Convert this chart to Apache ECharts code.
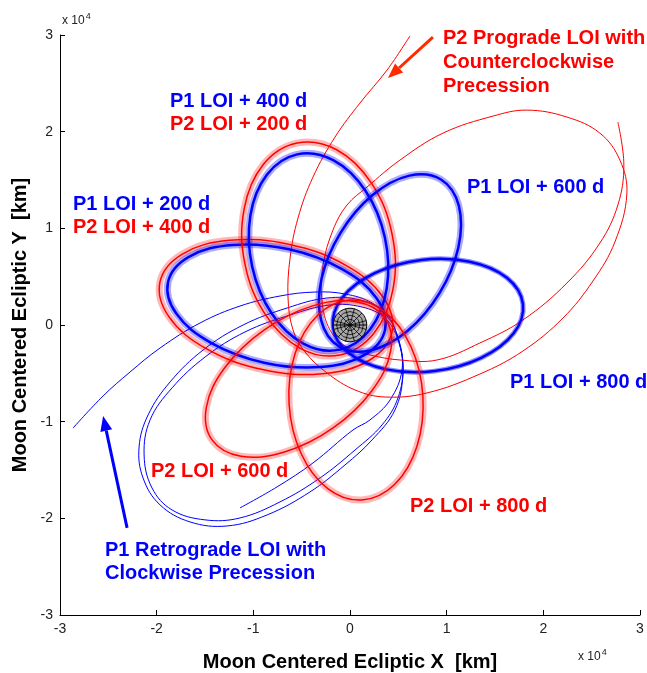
<!DOCTYPE html>
<html><head><meta charset="utf-8">
<script src="https://cdn.jsdelivr.net/npm/echarts@6/dist/echarts.min.js"></script>
<style>html,body{margin:0;padding:0;background:#fff}#c{width:647px;height:673px}</style>
</head><body><div id="c"></div>
<script>
// axis ticks (units of 10^4 km)
const xTicks = [-3, -2, -1, 0, 1, 2, 3];
const yTicks = [-3, -2, -1, 0, 1, 2, 3];

// Moon
const moonCenter = [0, 0];
const moonRadius = 0.1737;

// P1 (blue) lunar orbits, points read around each loop (10^4 km)
const p1Loi200 = [[-1.882,0.445],[-1.667,0.705],[-1.210,0.828],[-0.631,0.783],[-0.087,0.580],[0.277,0.275],[0.362,-0.052],[0.147,-0.312],[-0.310,-0.435],[-0.889,-0.390],[-1.433,-0.187],[-1.797,0.118]];
const p1Loi400 = [[-0.547,1.765],[-0.174,1.705],[0.158,1.391],[0.361,0.906],[0.380,0.380],[0.209,-0.044],[-0.104,-0.255],[-0.478,-0.195],[-0.810,0.119],[-1.012,0.604],[-1.031,1.130],[-0.860,1.554]];
const p1Loi600 = [[0.941,1.505],[1.126,1.233],[1.121,0.802],[0.926,0.329],[0.594,-0.062],[0.212,-0.263],[-0.114,-0.222],[-0.299,0.050],[-0.294,0.480],[-0.098,0.953],[0.234,1.344],[0.615,1.545]];
const p1Loi800 = [[1.789,0.217],[1.693,-0.086],[1.358,-0.340],[0.876,-0.477],[0.375,-0.459],[-0.009,-0.293],[-0.176,-0.021],[-0.080,0.282],[0.255,0.536],[0.737,0.673],[1.238,0.655],[1.623,0.489]];
// P1 retrograde arrival and first revolutions
const p1Retro = [[-2.864,-1.065],[-2.554,-0.734],[-2.275,-0.486],[-1.965,-0.238],[-1.551,0.021],[-1.138,0.196],[-0.724,0.300],[-0.362,0.341],[-0.052,0.321],[0.228,0.228],[0.414,0.052],[0.517,-0.207],[0.548,-0.517],[0.465,-0.879],[0.228,-1.189],[-0.052,-1.448],[-0.414,-1.727],[-0.858,-1.965],[-1.272,-2.079],[-1.655,-2.037],[-1.965,-1.861],[-2.141,-1.582],[-2.182,-1.262],[-2.089,-0.931],[-1.861,-0.589],[-1.520,-0.259],[-1.106,0.0],[-0.651,0.176],[-0.238,0.279],[0.103,0.259],[0.362,0.134],[0.486,-0.103],[0.548,-0.414],[0.496,-0.755],[0.331,-1.034],[0.052,-1.293],[-0.310,-1.582],[-0.724,-1.830],[-1.138,-1.996],[-1.499,-2.016],[-1.841,-1.913],[-2.048,-1.686],[-2.130,-1.344],[-2.068,-0.982],[-1.841,-0.651],[-1.499,-0.331],[-1.086,-0.072],[-0.620,0.103],[-0.207,0.207],[0.124,0.186],[0.362,0.072],[0.496,-0.155],[0.538,-0.465],[0.414,-0.776],[0.207,-0.982],[0.031,-1.086],[-0.383,-1.427],[-0.755,-1.675],[-1.138,-1.892]];

// P2 (red) lunar orbits
const p2Loi200 = [[-0.548,1.882],[-0.138,1.813],[0.222,1.467],[0.435,0.940],[0.445,0.371],[0.247,-0.086],[-0.103,-0.310],[-0.514,-0.241],[-0.873,0.104],[-1.087,0.632],[-1.095,1.201],[-0.899,1.658]];
const p2Loi400 = [[-1.966,0.445],[-1.734,0.734],[-1.245,0.876],[-0.626,0.833],[-0.043,0.617],[0.344,0.285],[0.435,-0.072],[0.205,-0.362],[-0.285,-0.504],[-0.905,-0.461],[-1.487,-0.245],[-1.874,0.087]];
const p2Loi600 = [[-1.427,-1.189],[-1.128,-1.358],[-0.670,-1.312],[-0.175,-1.065],[0.225,-0.682],[0.421,-0.266],[0.362,0.072],[0.063,0.241],[-0.395,0.195],[-0.890,-0.052],[-1.290,-0.435],[-1.486,-0.851]];
const p2Loi800 = [[0.124,-1.810],[0.461,-1.650],[0.692,-1.256],[0.754,-0.734],[0.630,-0.222],[0.354,0.141],[0.0,0.259],[-0.337,0.099],[-0.568,-0.295],[-0.630,-0.817],[-0.506,-1.329],[-0.230,-1.692]];
// P2 prograde arrival and first revolutions
const p2Pro = [[0.620,2.99],[0.383,2.637],[0.103,2.296],[-0.155,1.944],[-0.383,1.530],[-0.538,1.106],[-0.620,0.693],[-0.641,0.279],[-0.589,-0.052],[-0.465,-0.279],[-0.238,-0.496],[0.052,-0.672],[0.362,-0.745],[0.796,-0.703],[1.344,-0.507],[1.789,-0.269],[2.203,0.072],[2.513,0.455],[2.740,0.858],[2.864,1.355],[2.792,1.706],[2.585,1.985],[2.244,2.151],[1.830,2.223],[1.479,2.161],[0.962,1.985],[0.517,1.706],[0.176,1.427],[-0.031,1.241],[-0.176,0.982],[-0.279,0.620],[-0.290,0.259],[-0.207,-0.052],[-0.021,-0.238],[0.207,-0.310],[0.517,-0.362],[0.900,-0.362],[1.344,-0.186],[1.789,0.052],[2.244,0.434],[2.585,0.848],[2.771,1.241],[2.833,1.655],[2.771,2.099]];

// annotation arrows [tail, head]
const redArrow = [[0.858,2.978],[0.393,2.554]];
const blueArrow = [[-2.306,-2.099],[-2.554,-0.941]];

const BLUE = '#0000ff', RED = '#ff0000';
const FONT = '"Liberation Sans", Arial, Helvetica, sans-serif';

function pathSeries(pts, color, width, closed, z, band) {
  return {
    type: 'custom', coordinateSystem: 'cartesian2d', silent: true, z: z || 2,
    data: [0],
    renderItem: function (params, api) {
      const p = pts.map(function (d) { return api.coord(d); });
      const shapeType = closed ? 'polygon' : 'polyline';
      const children = [];
      if (band) {
        children.push({ type: shapeType, shape: { points: p, smooth: 0.38 }, style: { fill: 'none', stroke: band.color, lineWidth: band.width, opacity: band.opacity } });
      }
      children.push({ type: shapeType, shape: { points: p, smooth: 0.38 }, style: { fill: 'none', stroke: color, lineWidth: width } });
      return { type: 'group', children: children };
    }
  };
}

function arrowSeries(a, color) {
  return {
    type: 'custom', coordinateSystem: 'cartesian2d', silent: true, z: 6,
    data: [0],
    renderItem: function (params, api) {
      const t = api.coord(a[0]), h = api.coord(a[1]);
      const dx = h[0] - t[0], dy = h[1] - t[1];
      const L = Math.sqrt(dx * dx + dy * dy), ux = dx / L, uy = dy / L;
      const hl = 15, hw = 6;
      const bx = h[0] - ux * hl, by = h[1] - uy * hl;
      return { type: 'group', children: [
        { type: 'line', shape: { x1: t[0], y1: t[1], x2: bx, y2: by }, style: { stroke: color, lineWidth: 3 } },
        { type: 'polygon', shape: { points: [[h[0], h[1]], [bx - uy * hw, by + ux * hw], [bx + uy * hw, by - ux * hw]] }, style: { fill: color } }
      ]};
    }
  };
}

const moonSeries = {
  type: 'custom', coordinateSystem: 'cartesian2d', silent: true, z: 8,
  data: [0],
  renderItem: function (params, api) {
    const c = api.coord(moonCenter);
    const r = api.size([moonRadius, moonRadius])[0];
    const ch = [{ type: 'circle', shape: { cx: c[0], cy: c[1], r: r }, style: { fill: '#a9a9a9', stroke: '#000', lineWidth: 1 } }];
    [0.8, 0.58, 0.34].forEach(function (f) {
      const pts = [];
      for (let k = 0; k < 12; k++) { const a = k * Math.PI / 6; pts.push([c[0] + Math.cos(a) * r * f, c[1] + Math.sin(a) * r * f]); }
      ch.push({ type: 'polygon', shape: { points: pts }, style: { fill: 'none', stroke: '#000', lineWidth: 0.8 } });
    });
    for (let k = 0; k < 12; k++) {
      const a = k * Math.PI / 6 + Math.PI / 12;
      ch.push({ type: 'line', shape: { x1: c[0], y1: c[1], x2: c[0] + Math.cos(a) * r, y2: c[1] + Math.sin(a) * r }, style: { stroke: '#000', lineWidth: 0.8 } });
    }
    ch.push({ type: 'line', shape: { x1: c[0] - r, y1: c[1], x2: c[0] + r, y2: c[1] }, style: { stroke: '#000', lineWidth: 1 } });
    return { type: 'group', children: ch };
  }
};

function txt(t, x, y, color) {
  return { type: 'text', x: x, y: y, z: 10, style: { text: t, fill: color, font: 'bold 20px ' + FONT, verticalAlign: 'middle', align: 'left' } };
}
function pow10(x, y) {
  return { type: 'text', x: x, y: y, z: 10, style: { text: '{a|x 10}{b|4}', verticalAlign: 'middle', rich: { a: { fontSize: 12, fontFamily: FONT, fill: '#222' }, b: { fontSize: 9, fontFamily: FONT, fill: '#222', verticalAlign: 'top', padding: [0, 0, 9, 1] } } } };
}

const blueBand = { color: BLUE, width: 7, opacity: 0.33 };
const redBand = { color: RED, width: 7, opacity: 0.28 };

const chart = echarts.init(document.getElementById('c'), null, { renderer: 'canvas' });
const axisCommon = {
  type: 'value', min: -3, max: 3, interval: 1,
  axisLine: { show: true, onZero: false, lineStyle: { color: '#000', width: 1 } },
  axisTick: { show: true, inside: true, length: 5, lineStyle: { color: '#000' } },
  splitLine: { show: false },
  axisLabel: { color: '#222', fontSize: 14, fontFamily: FONT, margin: 7 }
};
chart.setOption({
  animation: false,
  backgroundColor: '#fff',
  grid: { left: 60, top: 35, width: 580, height: 580, containLabel: false },
  xAxis: Object.assign({}, axisCommon, { axisLabel: Object.assign({}, axisCommon.axisLabel, { formatter: function (v) { return xTicks.indexOf(v) >= 0 ? String(v) : ''; } }) }),
  yAxis: Object.assign({}, axisCommon, { axisLabel: Object.assign({}, axisCommon.axisLabel, { formatter: function (v) { return yTicks.indexOf(v) >= 0 ? String(v) : ''; } }) }),
  series: [
    pathSeries(p1Retro, BLUE, 1, false, 2),
    pathSeries(p2Pro, RED, 1, false, 2),
    pathSeries(p2Loi400, RED, 1.5, true, 3, redBand),
    pathSeries(p1Loi200, BLUE, 2.5, true, 3, blueBand),
    pathSeries(p2Loi200, RED, 1.5, true, 3, redBand),
    pathSeries(p1Loi400, BLUE, 2.5, true, 3, blueBand),
    pathSeries(p1Loi600, BLUE, 2.5, true, 3, blueBand),
    pathSeries(p1Loi800, BLUE, 2.5, true, 3, { color: BLUE, width: 5, opacity: 0.45 }),
    pathSeries(p2Loi600, RED, 1.5, true, 3, redBand),
    pathSeries(p2Loi800, RED, 1.5, true, 3, redBand),
    arrowSeries(redArrow, '#ff2a00'),
    arrowSeries(blueArrow, BLUE),
    moonSeries
  ],
  graphic: [
    txt('P2 Prograde LOI with', 443, 38, RED),
    txt('Counterclockwise', 443, 62, RED),
    txt('Precession', 443, 86, RED),
    txt('P1 LOI + 400 d', 170, 101, BLUE),
    txt('P2 LOI + 200 d', 170, 124, RED),
    txt('P1 LOI + 200 d', 73, 204, BLUE),
    txt('P2 LOI + 400 d', 73, 227, RED),
    txt('P1 LOI + 600 d', 467, 187, BLUE),
    txt('P1 LOI + 800 d', 510, 382, BLUE),
    txt('P2 LOI + 600 d', 151, 471, RED),
    txt('P2 LOI + 800 d', 410, 506, RED),
    txt('P1 Retrograde LOI with', 105, 550, BLUE),
    txt('Clockwise Precession', 105, 573, BLUE),
    { type: 'text', x: 350, y: 662, z: 10, style: { text: 'Moon Centered Ecliptic X  [km]', fill: '#000', font: 'bold 20px ' + FONT, align: 'center', verticalAlign: 'middle' } },
    { type: 'text', x: 20, y: 325, rotation: Math.PI / 2, z: 10, style: { text: 'Moon Centered Ecliptic Y  [km]', fill: '#000', font: 'bold 20px ' + FONT, align: 'center', verticalAlign: 'middle' } },
    pow10(62, 21),
    pow10(578, 657)
  ]
});
</script></body></html>
